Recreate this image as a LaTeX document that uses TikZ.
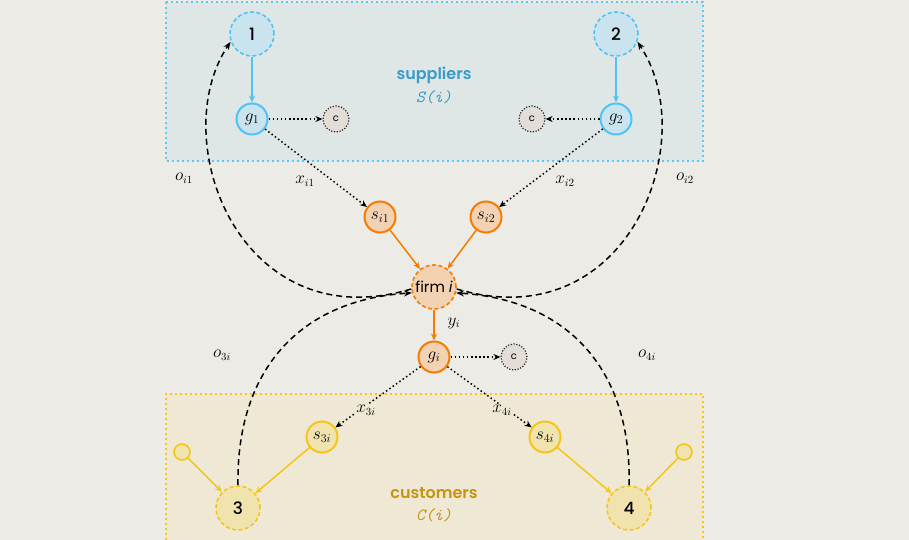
\documentclass[tikz,border=0pt]{standalone}
\usepackage{fontspec}
\setmainfont{Poppins}[BoldFont={Poppins Medium}]
\newfontfamily\popsemi{Poppins SemiBold}
\usetikzlibrary{arrows.meta}
\definecolor{bg}{HTML}{ECEBE6}
\definecolor{supfill}{HTML}{DFE7E6}
\definecolor{supline}{HTML}{5BC8F5}
\definecolor{bluefill}{HTML}{C9E4EE}
\definecolor{blueline}{HTML}{4FC3F7}
\definecolor{suptext}{HTML}{3A9BC8}
\definecolor{orline}{HTML}{F57C00}
\definecolor{orfill}{HTML}{F3D2B3}
\definecolor{cusfill}{HTML}{EEE8D4}
\definecolor{yeline}{HTML}{F5C518}
\definecolor{yefill}{HTML}{F0E3AE}
\definecolor{custext}{HTML}{C4950F}
\definecolor{cfill}{HTML}{E2DDD6}
\tikzset{
  bignode/.style={circle, minimum size=44pt, inner sep=0pt, line width=1.6pt, dash pattern=on 4pt off 2.5pt, font=\fontsize{17}{17}\selectfont\bfseries},
  midnode/.style={circle, minimum size=31pt, inner sep=0pt, line width=2pt, font=\fontsize{17}{17}\selectfont},
  tinynode/.style={circle, minimum size=16pt, inner sep=0pt, line width=1.6pt, draw=yeline, fill=yefill},
  cnode/.style={circle, minimum size=26pt, inner sep=0pt, draw=black!85, line width=1.2pt, dash pattern=on 1.2pt off 1.6pt, fill=cfill, font=\fontsize{10}{10}\selectfont},
  solidarrow/.style={line width=1.5pt, -{Stealth[length=7pt,width=6pt]}},
  dotarrow/.style={line width=1.5pt, black, dash pattern=on 1.5pt off 2.6pt, -{Stealth[length=7pt,width=6pt]}},
  dasharrow/.style={line width=1.5pt, black, dash pattern=on 6pt off 4pt, -{Stealth[length=8pt,width=6pt]}},
  lbl/.style={font=\fontsize{16}{16}\selectfont, inner sep=1pt},
  title/.style={font=\fontsize{16}{16}\selectfont\popsemi},
  setlbl/.style={font=\fontsize{17}{17}\selectfont\ttfamily\itshape},
}
\begin{document}
\begin{tikzpicture}[x=1pt,y=-1pt]
\fill[bg] (0,0) rectangle (909,540);
\useasboundingbox (0,0) rectangle (909,540);
% boxes
\fill[supfill] (166,2) rectangle (703,161);
\draw[supline, line width=1.6pt, dash pattern=on 1.6pt off 3.4pt] (166,2) rectangle (703,161);
\fill[cusfill] (166,394) rectangle (703,540);
\draw[yeline, line width=1.6pt, dash pattern=on 1.6pt off 3.4pt] (166,540) -- (166,394) -- (703,394) -- (703,540);
\node[title, text=suptext] (suptitle) at (434,75) {suppliers};
\node[setlbl, text=suptext] (supset) at (434,97) {S(i)};
\node[title, text=custext] (custitle) at (434,493) {customers};
\node[setlbl, text=custext] (cusset) at (434,515) {C(i)};
% supplier nodes
\node[bignode, draw=blueline, fill=bluefill] (n1) at (252,34) {1};
\node[bignode, draw=blueline, fill=bluefill] (n2) at (616,34) {2};
\node[midnode, draw=blueline, fill=bluefill] (g1) at (252,119) {$g_1$};
\node[midnode, draw=blueline, fill=bluefill] (g2) at (616,119) {$g_2$};
\node[cnode] (c1) at (336,119) {c};
\node[cnode] (c2) at (532,119) {c};
% firm
\node[midnode, draw=orline, fill=orfill] (si1) at (380,217) {$s_{i1}$};
\node[midnode, draw=orline, fill=orfill] (si2) at (486,217) {$s_{i2}$};
\node[bignode, draw=orline, fill=orfill, font=\fontsize{15}{15}\selectfont] (firm) at (434,287) {firm {\itshape i}};
\node[midnode, draw=orline, fill=orfill] (gi) at (434,357) {$g_i$};
\node[cnode] (ci) at (514,357) {c};
% customers
\node[midnode, draw=yeline, fill=yefill] (s3i) at (322,437) {$s_{3i}$};
\node[midnode, draw=yeline, fill=yefill] (s4i) at (545,437) {$s_{4i}$};
\node[bignode, draw=yeline, fill=yefill] (n3) at (238,508) {3};
\node[bignode, draw=yeline, fill=yefill] (n4) at (629,508) {4};
\node[tinynode] (t3) at (182,452) {};
\node[tinynode] (t4) at (684,452) {};
% edges
\draw[solidarrow, blueline] (n1) -- (g1);
\draw[solidarrow, blueline] (n2) -- (g2);
\draw[dotarrow] (g1) -- (c1);
\draw[dotarrow] (g2) -- (c2);
\draw[dotarrow] (g1) -- (si1);
\draw[dotarrow] (g2) -- (si2);
\draw[solidarrow, orline] (si1) -- (firm);
\draw[solidarrow, orline] (si2) -- (firm);
\draw[solidarrow, orline] (firm) -- (gi);
\draw[dotarrow] (gi) -- (ci);
\draw[dotarrow] (gi) -- (s3i);
\draw[dotarrow] (gi) -- (s4i);
\draw[solidarrow, yeline] (s3i) -- (n3);
\draw[solidarrow, yeline] (t3) -- (n3);
\draw[solidarrow, yeline] (s4i) -- (n4);
\draw[solidarrow, yeline] (t4) -- (n4);
% dashed curves
\draw[dasharrow] (firm.185) .. controls (240,340) and (165,140) .. (n1.200);
\draw[dasharrow] (firm.-5) .. controls (628,340) and (703,140) .. (n2.-20);
\draw[dasharrow] (n3.north) .. controls (236,370) and (300,300) .. (firm.195);
\draw[dasharrow] (n4.north) .. controls (632,370) and (568,300) .. (firm.-15);
% labels
\node[lbl] (lxi1) at (305,181) {$x_{i1}$};
\node[lbl] (lxi2) at (565,181) {$x_{i2}$};
\node[lbl] (loi1) at (184,178) {$o_{i1}$};
\node[lbl] (loi2) at (685,178) {$o_{i2}$};
\node[lbl] (lyi) at (454,323) {$y_i$};
\node[lbl] (lo3i) at (222,355) {$o_{3i}$};
\node[lbl] (lo4i) at (647,355) {$o_{4i}$};
\node[lbl, fill=cusfill] (lx3i) at (366,410) {$x_{3i}$};
\node[lbl, fill=cusfill] (lx4i) at (502,410) {$x_{4i}$};
\end{tikzpicture}
\end{document}
